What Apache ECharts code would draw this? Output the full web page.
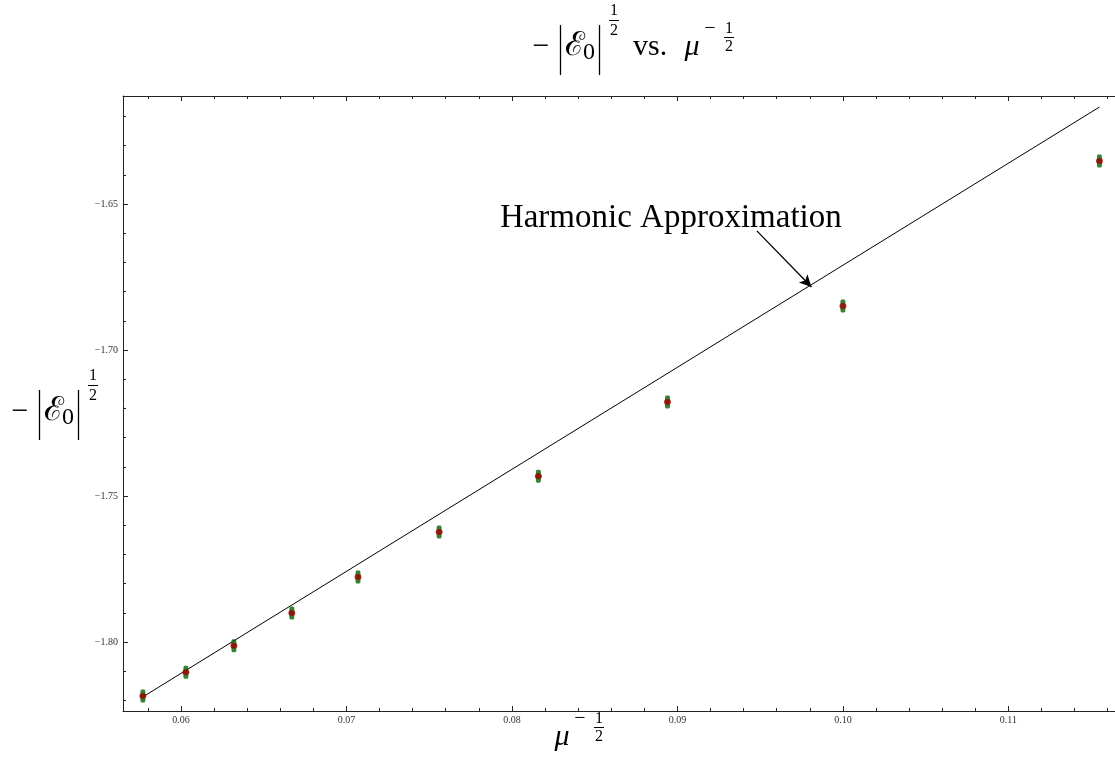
<!DOCTYPE html>
<html>
<head>
<meta charset="utf-8">
<script src="https://cdn.jsdelivr.net/npm/echarts@6/dist/echarts.min.js"></script>
<style>html,body{margin:0;padding:0;background:#fff}#c{width:1115px;height:757px}</style>
</head>
<body>
<div id="c"></div>
<script>
// ---- data ----
const xVals = [0.0577, 0.0603, 0.0632, 0.0667, 0.0707, 0.0756, 0.0816, 0.0894, 0.1000, 0.1155];
const yVals = [-1.8185, -1.8104, -1.8013, -1.7901, -1.7777, -1.7623, -1.7432, -1.7178, -1.6849, -1.6353];
const lineX = [0.0577, 0.1155];
const lineY = [-1.8188, -1.6168];
const majorX = [0.06, 0.07, 0.08, 0.09, 0.10, 0.11];
const minorX = [0.058, 0.062, 0.064, 0.066, 0.068, 0.072, 0.074, 0.076, 0.078, 0.082, 0.084, 0.086, 0.088,
                0.092, 0.094, 0.096, 0.098, 0.102, 0.104, 0.106, 0.108, 0.112, 0.114, 0.116];
const majorY = [-1.80, -1.75, -1.70, -1.65];
const minorY = [-1.82, -1.81, -1.79, -1.78, -1.77, -1.76, -1.74, -1.73, -1.72, -1.71,
                -1.69, -1.68, -1.67, -1.66, -1.64, -1.63, -1.62];
const annText = 'Harmonic Approximation';
const annTextPos = [0.0896, -1.6548];
const annArrow = [[0.0948, -1.6592], [0.0981, -1.6784]];

const F = "'Liberation Serif','DejaVu Serif',serif";
function T(s, x, y, size, italic, align) {
  return {type: 'text', x: x, y: y, silent: true, style: {
    text: s, font: (italic ? 'italic ' : '') + size + 'px ' + F, fill: '#000',
    textAlign: align || 'center', textVerticalAlign: 'middle', align: align || 'center', verticalAlign: 'middle'}};
}
function L(x1, y1, x2, y2, w) {
  return {type: 'line', silent: true, shape: {x1: x1, y1: y1, x2: x2, y2: y2}, style: {stroke: '#000', lineWidth: w || 1.3}};
}
function absE(dx, dy) {
  return [
    T('\u2212', 541 + dx, 47 + dy, 30),
    L(560.5 + dx, 25 + dy, 560.5 + dx, 75 + dy),
    T('\u2130', 575 + dx, 46 + dy, 33),
    T('0', 589 + dx, 53 + dy, 24),
    L(599.5 + dx, 25 + dy, 599.5 + dx, 75 + dy),
    T('1', 614 + dx, 11 + dy, 16),
    L(609 + dx, 20.5 + dy, 619 + dx, 20.5 + dy, 1),
    T('2', 614 + dx, 31 + dy, 16)
  ];
}
function muPart(dx, dy) {
  return [
    T('\u03bc', 692 + dx, 47 + dy, 30, true),
    T('\u2212', 710 + dx, 29 + dy, 20),
    T('1', 729 + dx, 29 + dy, 16),
    L(724 + dx, 37.5 + dy, 734 + dx, 37.5 + dy, 1),
    T('2', 729 + dx, 47 + dy, 16)
  ];
}
const graphics = [].concat(
  absE(0, 0),
  [T('vs.', 633, 47, 30, false, 'left')],
  muPart(0, 0),
  absE(-521, 365),
  muPart(-130, 690)
);

const lab = {fontSize: 10, fontFamily: F, color: '#333'};
const axLine = {show: true, onZero: false, lineStyle: {color: '#222', width: 1}};
function xAx(pos, ticks, len, showLine, showLabel) {
  return {type: 'value', position: pos, min: 0.0565, max: 0.11644,
    axisLine: showLine ? axLine : {show: false},
    axisTick: {show: true, inside: true, length: len, customValues: ticks, lineStyle: {color: '#222'}},
    axisLabel: showLabel ? Object.assign({show: true, margin: 4, customValues: ticks,
      formatter: v => v.toFixed(2)}, lab) : {show: false},
    splitLine: {show: false}};
}
function yAx(pos, ticks, len, showLine, showLabel) {
  return {type: 'value', position: pos, min: -1.82363, max: -1.61301,
    axisLine: showLine ? axLine : {show: false},
    axisTick: {show: true, inside: true, length: len, customValues: ticks, lineStyle: {color: '#222'}},
    axisLabel: showLabel ? Object.assign({show: true, margin: 5, customValues: ticks,
      formatter: v => '\u2212' + Math.abs(v).toFixed(2)}, lab) : {show: false},
    splitLine: {show: false}};
}

const chart = echarts.init(document.getElementById('c'), null, {renderer: 'canvas'});
chart.setOption({
  animation: false,
  backgroundColor: '#fff',
  grid: {left: 123, top: 96, right: 0, bottom: 46, containLabel: false},
  xAxis: [xAx('bottom', majorX, 5, true, true), xAx('bottom', minorX, 3, false, false),
          xAx('top', majorX, 5, true, false), xAx('top', minorX, 3, false, false)],
  yAxis: [yAx('left', majorY, 5, true, true), yAx('left', minorY, 3, false, false)],
  graphic: graphics,
  series: [
    {type: 'line', xAxisIndex: 0, yAxisIndex: 0, data: lineX.map((x, i) => [x, lineY[i]]),
     symbol: 'none', lineStyle: {color: '#000', width: 1}, z: 2,
     markLine: {silent: true, symbol: ['none', 'arrow'], symbolSize: [9, 12],
       lineStyle: {color: '#000', width: 1.3, type: 'solid'}, label: {show: false},
       data: [[{coord: annArrow[0]}, {coord: annArrow[1]}]]},
     markPoint: {silent: true, symbol: 'circle', symbolSize: 0,
       label: {show: true, position: 'inside', formatter: annText, fontSize: 33, fontFamily: F, color: '#000'},
       data: [{coord: annTextPos}]}},
    {type: 'scatter', xAxisIndex: 0, yAxisIndex: 0, data: xVals.map((x, i) => [x, yVals[i]]),
     symbol: 'roundRect', symbolSize: [5, 13], itemStyle: {color: '#006400'}, z: 3},
    {type: 'scatter', xAxisIndex: 0, yAxisIndex: 0, data: xVals.map((x, i) => [x, yVals[i]]),
     symbol: 'circle', symbolSize: [7, 6], itemStyle: {color: '#a00000'}, z: 4}
  ]
});
</script>
</body>
</html>
